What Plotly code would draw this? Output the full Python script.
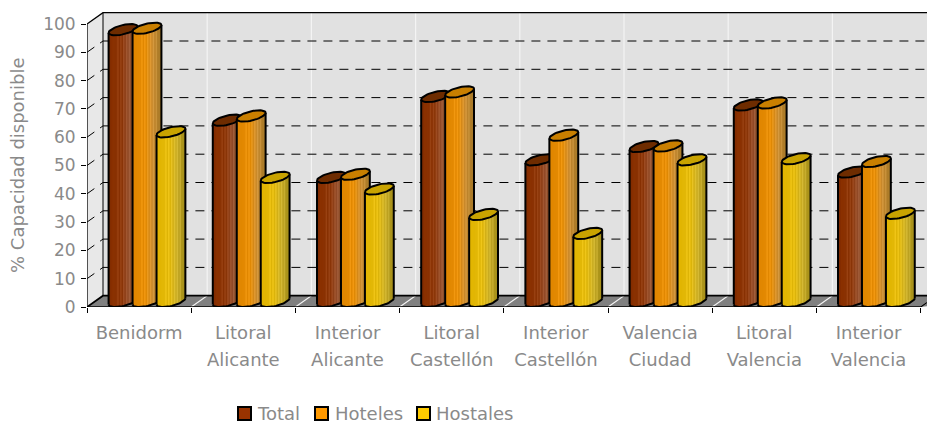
import numpy as np
import plotly.graph_objects as go

# ---- data ----
row1 = ["Benidorm", "Litoral", "Interior", "Litoral", "Interior", "Valencia", "Litoral", "Interior"]
row2 = ["", "Alicante", "Alicante", "Castellón", "Castellón", "Ciudad", "Valencia", "Valencia"]
total = [96.0, 64.0, 43.8, 72.4, 50.0, 54.7, 69.4, 45.7]
hoteles = [96.5, 65.5, 44.9, 74.0, 58.7, 54.9, 70.1, 49.4]
hostales = [59.9, 43.8, 39.7, 30.7, 24.0, 50.0, 50.4, 31.1]
y_ticks = [0, 10, 20, 30, 40, 50, 60, 70, 80, 90, 100]
y_title = "% Capacidad disponible"

# ---- geometry (px converted to axis units) ----
W, H = 927, 423
L, R, T, B = 87, 0, 10, 116
PX = 104.2   # px per category
PY = 2.83    # px per percent
DX = 16 / PX  # wall depth in x units
DY = 11.3 / PY  # wall depth in y units
XMAX = (W - L - R) / PX
YMAX = (H - T - B) / PY
A = 12.0 / PX
OFFS = [0.2687, 0.499, 0.729]
FONT = dict(family="DejaVu Sans", size=18, color="#8a8a8a")
YFONT = dict(family="DejaVu Sans", size=17, color="#8a8a8a")
INK = "#000000"

series = [
    ("Total", total, "#993300", "#6e2c00",
     [(0, "#7a2a02"), (.12, "#8a3000"), (.45, "#8c3608"), (.7, "#96502e"), (1, "#7f5228")]),
    ("Hoteles", hoteles, "#FF9900", "#c97f00",
     [(0, "#e08600"), (.45, "#e68c04"), (.7, "#cb8d32"), (1, "#a37828")]),
    ("Hostales", hostales, "#FFCC00", "#c9a300",
     [(0, "#e3b500"), (.45, "#e2b90c"), (.7, "#cbae28"), (1, "#a08a18")]),
]


def hex_rgb(c):
    return np.array([int(c[i:i + 2], 16) for i in (1, 3, 5)], float)


def shade(stops, u, lift=0.0):
    for (u0, c0), (u1, c1) in zip(stops, stops[1:]):
        if u <= u1:
            m = (u - u0) / (u1 - u0)
            v = np.clip(hex_rgb(c0) * (1 - m) + hex_rgb(c1) * m + lift, 0, 255)
            return "rgb(%d,%d,%d)" % tuple(v)
    return stops[-1][1]


def ell(cx, cy, ts):
    return cx + A * np.cos(ts) + (DX / 2) * np.sin(ts), cy + (DY / 2) * np.sin(ts)


T0 = np.arctan2(DX / 2 * PX, A * PX)
NS = 20
fig = go.Figure()

# walls, floor, boundaries
shapes = []


def poly(pts, fill, line=None, width=0):
    path = "M" + "L".join(f"{x},{y}" for x, y in pts) + "Z"
    shapes.append(dict(type="path", path=path, xref="x", yref="y", fillcolor=fill, layer="below",
                       line=dict(color=line or fill, width=width)))


poly([(0, 0), (DX, DY), (DX, 100 + DY), (0, 100)], "#e8e8e8")
poly([(DX, DY), (XMAX + 1, DY), (XMAX + 1, 100 + DY), (DX, 100 + DY)], "#e1e1e1")
poly([(0, 0), (DX, DY), (XMAX + 1, DY), (8 + 0, 0)], "#808080")
fig.update_layout(shapes=shapes)


def line_trace(xs, ys, color=INK, width=1.0, dash=None):
    fig.add_trace(go.Scatter(x=xs, y=ys, mode="lines", showlegend=False, hoverinfo="skip", cliponaxis=False,
                             line=dict(color=color, width=width, dash=dash)))


# white category separators on wall + floor
xs, ys = [], []
for k in range(1, 9):
    xs += [k, k + DX, k + DX, None]
    ys += [0, DY, 100 + DY, None]
line_trace(xs, ys, "#f4f4f4", 1.2)

# dashed grid on wall
for v in y_ticks[1:-1]:
    line_trace([0, DX, XMAX], [v, v + DY, v + DY], INK, 1.0, "9px,7px")

# wall frame
line_trace([0, 0, DX, XMAX], [0, 100, 100 + DY, 100 + DY], INK, 1.3)
line_trace([DX, DX], [100 + DY, DY], INK, 1.0)
line_trace([0, DX, XMAX], [0, DY, DY], INK, 1.8)
line_trace([0, 8, 8 + DX * 0.4], [0, 0, DY * 0.4], INK, 1.4)

# cylinders
for si, (name, vals, base, cap, stops) in enumerate(series):
    centres = [k + OFFS[si] + DX / 2 for k in range(len(vals))]
    fig.add_trace(go.Bar(x=centres, y=vals, base=DY / 2, width=A * 1.5, name=name, marker=dict(color=base, line=dict(width=0)),
                         hoverinfo="skip", showlegend=False))
    edges = np.linspace(0, 1, NS + 1)
    for j in range(NS):
        px, py = [], []
        u0, u1 = edges[j], min(edges[j + 1] + 0.03, 1)
        for cx, v in zip(centres, vals):
            t_a = T0 + np.pi + np.arccos(np.clip(1 - 2 * u0, -1, 1))
            t_b = T0 + np.pi + np.arccos(np.clip(1 - 2 * u1, -1, 1))
            ts = np.linspace(t_a, t_b, 4)
            bx, by = ell(cx, DY / 2, ts)
            tx, ty = ell(cx, DY / 2 + v, ts[::-1])
            px += list(bx) + list(tx) + [None]
            py += list(by) + list(ty) + [None]
        mid = 0.5 * (edges[j] + edges[j + 1])
        lift = 14.0 if (j % 2 == 0 and 0.3 < mid < 0.9) else (-4.0 if 0.3 < mid < 0.9 else 0.0)
        fig.add_trace(go.Scatter(x=px, y=py, mode="lines", fill="toself", cliponaxis=False, line=dict(width=0),
                                 fillcolor=shade(stops, mid, lift), hoverinfo="skip", showlegend=False))
    # outline + cap
    ox, oy, cxs, cys = [], [], [], []
    for cx, v in zip(centres, vals):
        ts = np.linspace(T0 + np.pi, T0 + 2 * np.pi, 30)
        bx, by = ell(cx, DY / 2, ts)
        ox += list(bx) + [None]
        oy += list(by) + [None]
        l_x, l_y = ell(cx, DY / 2, np.array([T0 + np.pi]))
        r_x, r_y = ell(cx, DY / 2, np.array([T0 + 2 * np.pi]))
        ox += [l_x[0], l_x[0], None, r_x[0], r_x[0], None]
        oy += [l_y[0], l_y[0] + v, None, r_y[0], r_y[0] + v, None]
        ts2 = np.linspace(0, 2 * np.pi, 48)
        ex, ey = ell(cx, DY / 2 + v, ts2)
        cxs += list(ex) + [None]
        cys += list(ey) + [None]
    line_trace(ox, oy, INK, 2.0)
    fig.add_trace(go.Scatter(x=cxs, y=cys, mode="lines", fill="toself", cliponaxis=False, fillcolor=cap,
                             line=dict(color=INK, width=2.0), hoverinfo="skip", showlegend=False))

mids = [k + 0.5 for k in range(len(row1))]
fig.update_layout(
    width=W, height=H, margin=dict(l=L, r=R, t=T, b=B), paper_bgcolor="white", plot_bgcolor="white",
    barmode="overlay", showlegend=False, font=FONT,
    xaxis=dict(range=[0, XMAX], tickmode="array", tickvals=mids, ticktext=row1, showgrid=False, zeroline=False,
               showline=False, ticks="", ticklabelstandoff=13, tickfont=FONT, fixedrange=True,
               minor=dict(tickmode="array", tickvals=list(range(9)), ticks="outside", ticklen=5, tickcolor=INK,
                          tickwidth=1, showgrid=False)),
    xaxis2=dict(range=[0, XMAX], overlaying="x", side="bottom", anchor="y", tickmode="array", tickvals=mids, ticktext=row2,
                showgrid=False, zeroline=False, showline=False, ticks="", ticklabelstandoff=40, tickfont=FONT, fixedrange=True),
    yaxis=dict(range=[0, YMAX], tickmode="array", tickvals=y_ticks, showgrid=False, zeroline=False, showline=False,
               ticks="outside", ticklen=5, tickcolor=INK, tickwidth=1, tickfont=YFONT, ticklabelstandoff=2, fixedrange=True),
    annotations=[dict(text=y_title, xref="paper", yref="paper", x=-70 / 840, y=(307 - 165) / 297, showarrow=False,
                      textangle=-90, font=FONT, xanchor="center", yanchor="middle")],
)
# invisible trace so that xaxis2 is drawn
fig.add_trace(go.Scatter(x=[0], y=[0], xaxis="x2", mode="markers", marker=dict(opacity=0), showlegend=False, hoverinfo="skip"))

# legend
legend = [(238, 257, 0), (315, 335, 1), (417, 436, 2)]
for sx, tx, i in legend:
    fig.add_shape(type="rect", xref="paper", yref="paper", x0=(sx - L) / 840, x1=(sx + 13 - L) / 840,
                  y0=(307 - 420) / 297, y1=(307 - 407) / 297, fillcolor=series[i][2], line=dict(color=INK, width=2))
    fig.add_annotation(text=series[i][0], xref="paper", yref="paper", x=(tx - L) / 840, y=(307 - 413) / 297, showarrow=False,
                       xanchor="left", yanchor="middle", font=FONT, xshift=-2)

fig.write_html("out.html", config=dict(displayModeBar=False), post_script="document.body.style.margin='0'")
